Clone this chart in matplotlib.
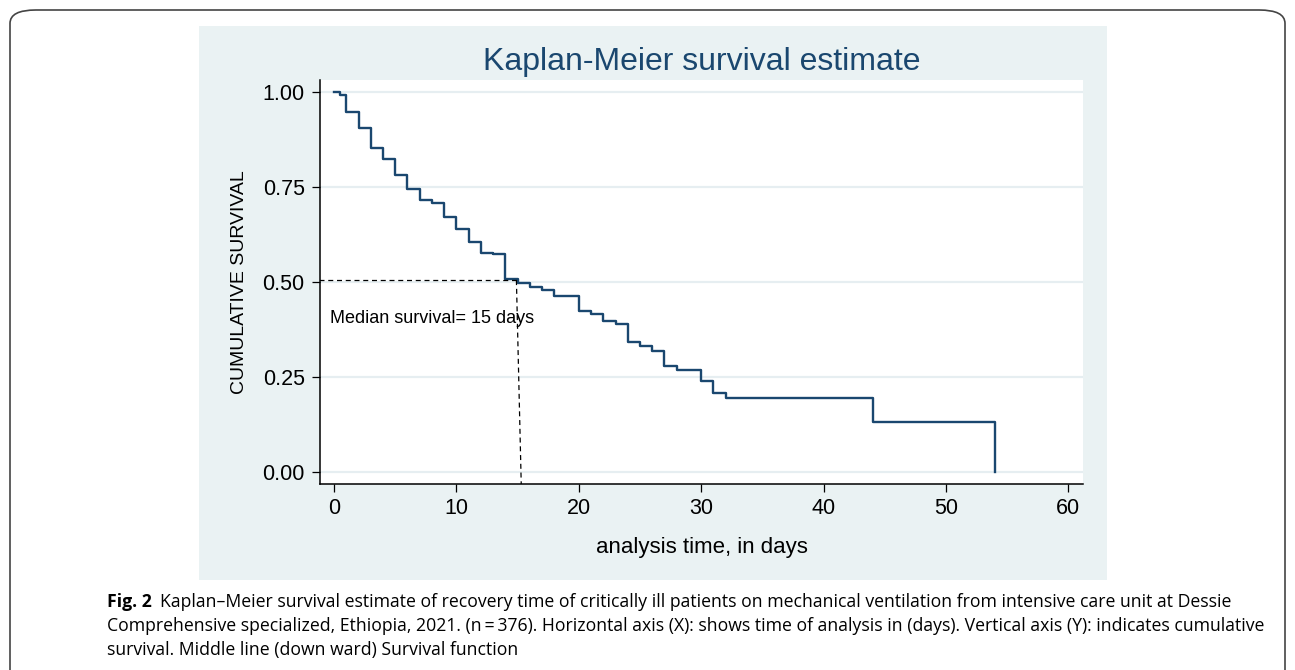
import numpy as np
import matplotlib
matplotlib.use("Agg")
import matplotlib.pyplot as plt
from matplotlib.patches import FancyBboxPatch, Rectangle

plt.rcParams['font.family'] = ['Liberation Sans', 'DejaVu Sans']

# Kaplan-Meier step estimate
days = [0, 0.5, 1, 2, 3, 4, 5, 6, 7, 8, 9, 10, 11, 12, 13, 14, 15, 16, 17,
        18, 20, 21, 22, 23, 24, 25, 26, 27, 28, 30, 31, 32, 44, 54]
survival = [1.0, 0.993, 0.949, 0.906, 0.853, 0.825, 0.783, 0.746, 0.716,
            0.709, 0.672, 0.639, 0.606, 0.577, 0.573, 0.508, 0.497, 0.488,
            0.479, 0.464, 0.423, 0.416, 0.396, 0.389, 0.341, 0.332, 0.318,
            0.279, 0.267, 0.240, 0.207, 0.194, 0.130, 0.0]
median_day = 15
median_level = 0.5
xticks = [0, 10, 20, 30, 40, 50, 60]
yticks = [0.0, 0.25, 0.50, 0.75, 1.00]
ytick_labels = ['0.00', '0.25', '0.50', '0.75', '1.00']

caption = [
    "Kaplan\u2013Meier survival estimate of recovery time of critically ill patients on mechanical ventilation from intensive care unit at Dessie",
    "Comprehensive specialized, Ethiopia, 2021. (n\u2009=\u2009376). Horizontal axis (X): shows time of analysis in (days). Vertical axis (Y): indicates cumulative",
    "survival. Middle line (down ward) Survival function",
]

W, H = 1295, 670
fig = plt.figure(figsize=(W / 100, H / 100), dpi=100)
fig.patch.set_facecolor('white')

# outer rounded frame of the figure box
frame = FancyBboxPatch((10 / W, -0.2), (1285 - 10) / W, 1.2 - 10 / H,
                       boxstyle="round,pad=0,rounding_size=0.02",
                       transform=fig.transFigure, fill=False,
                       edgecolor='#444444', lw=1.2, zorder=-2)
fig.patches.append(frame)

# light stata-like background panel
panel = Rectangle((199 / W, 1 - 580 / H), (1107 - 199) / W, (580 - 26) / H,
                  transform=fig.transFigure, facecolor='#EAF2F3',
                  edgecolor='none', zorder=-2)
fig.patches.append(panel)

ax = fig.add_axes([320 / W, 1 - 484 / H, (1083 - 320) / W, (484 - 80) / H])
ax.set_facecolor('white')

ax.step(days, survival, where='post', color='#1A476F', lw=1.7, zorder=3)

# median lines
ax.plot([-1.2, median_day], [median_level + 0.005, median_level + 0.005],
        color='black', ls=(0, (4, 3)), lw=0.9, zorder=4)
ax.plot([median_day - 0.1, median_day + 0.3], [median_level + 0.005, -0.04],
        color='black', ls=(0, (4, 3)), lw=0.9, zorder=4)
ax.text(-0.35, 0.405, "Median survival= 15 days", fontsize=13,
        va='center', ha='left', zorder=5)

ax.set_xlim(-1.15, 61.2)
ax.set_ylim(-0.032, 1.032)
ax.set_xticks(xticks)
ax.set_yticks(yticks)
ax.set_yticklabels(ytick_labels)
ax.tick_params(axis='both', labelsize=15.5, length=6, width=0.9, color='black')
ax.tick_params(axis='y', pad=5)
ax.tick_params(axis='x', pad=4)
ax.grid(axis='y', color='#E6EEF1', lw=1.6, zorder=0)
for s in ['top', 'right']:
    ax.spines[s].set_visible(False)
for s in ['left', 'bottom']:
    ax.spines[s].set_linewidth(1.1)

ax.set_xlabel("analysis time, in days", fontsize=16, labelpad=13)
ax.set_ylabel("CUMULATIVE SURVIVAL", fontsize=14, labelpad=10)
ax.set_title("Kaplan-Meier survival estimate", fontsize=23, color='#1A476F', pad=7)

# caption below the panel
cap_font = ['Open Sans', 'DejaVu Sans']
fig.text(107 / W, 1 - 602 / H, "Fig. 2", fontsize=12.7, fontweight='bold',
         family=cap_font, va='center', ha='left')
fig.text(160 / W, 1 - 602 / H, caption[0], fontsize=12.7, family=cap_font,
         va='center', ha='left')
fig.text(107 / W, 1 - 626 / H, caption[1], fontsize=12.7, family=cap_font,
         va='center', ha='left')
fig.text(107 / W, 1 - 650 / H, caption[2], fontsize=12.7, family=cap_font,
         va='center', ha='left')

fig.savefig("out.png", dpi=100)
